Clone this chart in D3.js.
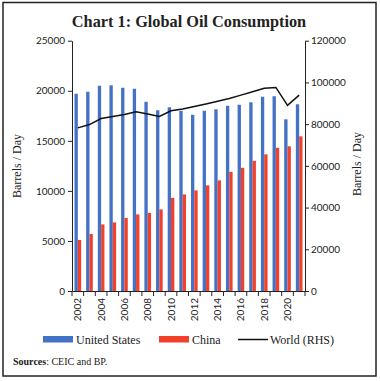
<!DOCTYPE html>
<html><head><meta charset="utf-8">
<script src="https://cdn.jsdelivr.net/npm/d3@7"></script>
<style>body{margin:0;background:#fff}svg{display:block}</style>
</head><body>
<script>
const years = [2002,2003,2004,2005,2006,2007,2008,2009,2010,2011,2012,2013,2014,2015,2016,2017,2018,2019,2020,2021];
const usValues = [19700,19900,20500,20550,20300,20200,18900,18050,18350,18000,17600,18000,18150,18500,18600,18850,19400,19450,17150,18650];
const chinaValues = [5100,5700,6650,6850,7300,7650,7800,8150,9300,9650,10050,10550,11050,11900,12300,13000,13650,14300,14450,15450];
const worldValues = [78200,79800,82700,83700,84600,85900,84900,83700,86400,87300,88500,89700,91000,92300,93900,95500,97200,97600,89000,93900];
const leftTicks = [0,5000,10000,15000,20000,25000];
const rightTicks = [0,20000,40000,60000,80000,100000,120000];
const xLabels = [2002,2004,2006,2008,2010,2012,2014,2016,2018,2020];

const W=380,H=381;
const svg=d3.select("body").append("svg").attr("width",W).attr("height",H);
svg.append("rect").attr("x",3).attr("y",2.5).attr("width",373).attr("height",373.5)
  .attr("fill","none").attr("stroke","#222").attr("stroke-width",1.5);

const L=72,R=305,T=40.7,B=291;
const x=d3.scaleBand().domain(years).range([L,R]).paddingInner(0).paddingOuter(0);
const xs=d3.scaleBand().domain(["us","cn"]).range([0,x.bandwidth()]).paddingInner(0).paddingOuter(0.75);
const yL=d3.scaleLinear().domain([0,25000]).range([B,T]);
const yR=d3.scaleLinear().domain([0,120000]).range([B,T]);

const tickFont="Lato, 'Open Sans', sans-serif";
const serif="'Liberation Serif', 'DejaVu Serif', serif";

svg.append("text").attr("x",189).attr("y",27).attr("text-anchor","middle")
  .attr("font-family",serif).attr("font-weight","bold").attr("font-size",16.3).attr("fill","#222")
  .text("Chart 1: Global Oil Consumption");

const g=svg.append("g");
g.selectAll(".us").data(years).join("rect")
  .attr("x",(d)=>x(d)+xs("us")).attr("width",xs.bandwidth())
  .attr("y",(d,i)=>yL(usValues[i])).attr("height",(d,i)=>B-yL(usValues[i])).attr("fill","#4472c4");
g.selectAll(".cn").data(years).join("rect")
  .attr("x",(d)=>x(d)+xs("cn")).attr("width",xs.bandwidth())
  .attr("y",(d,i)=>yL(chinaValues[i])).attr("height",(d,i)=>B-yL(chinaValues[i])).attr("fill","#f2402a");

const line=d3.line().x((d,i)=>x(years[i])+x.bandwidth()/2).y(d=>yR(d));
svg.append("path").datum(worldValues).attr("d",line).attr("fill","none").attr("stroke","#111").attr("stroke-width",1.5);

const axL=svg.append("g").attr("transform",`translate(${L},0)`)
  .call(d3.axisLeft(yL).tickValues(leftTicks).tickSize(4).tickPadding(3).tickSizeOuter(0).tickFormat(d3.format("d")));
const axR=svg.append("g").attr("transform",`translate(${R},0)`)
  .call(d3.axisRight(yR).tickValues(rightTicks).tickSize(4).tickPadding(2).tickSizeOuter(0).tickFormat(d3.format("d")));
const axB=svg.append("g").attr("transform",`translate(0,${B})`)
  .call(d3.axisBottom(x).tickValues([]).tickSizeOuter(0));
const bounds=years.map(d=>x(d)).concat([R]);
axB.selectAll(".bt").data(bounds).join("line").attr("x1",d=>d).attr("x2",d=>d).attr("y1",0).attr("y2",5).attr("stroke","#222");
axB.selectAll(".lbl").data(xLabels).join("text")
  .attr("transform",d=>`translate(${x(d)+x.bandwidth()/2+3.5},7) rotate(-90)`)
  .attr("text-anchor","end").text(d=>d);
[axL,axR,axB].forEach(a=>{a.selectAll("path,line").attr("stroke","#222");
  a.selectAll("text").attr("font-family",tickFont).attr("font-size",10).attr("fill","#222");});

svg.append("text").attr("transform","translate(21,166) rotate(-90)").attr("text-anchor","middle")
  .attr("font-family",serif).attr("font-size",12).attr("fill","#222").text("Barrels / Day");
svg.append("text").attr("transform","translate(361,164) rotate(-90)").attr("text-anchor","middle")
  .attr("font-family",serif).attr("font-size",12).attr("fill","#222").text("Barrels / Day");

const lg=svg.append("g");
lg.append("rect").attr("x",43).attr("y",336).attr("width",30).attr("height",6.5).attr("fill","#4472c4");
lg.append("rect").attr("x",159).attr("y",336).attr("width",30).attr("height",6.5).attr("fill","#f2402a");
lg.append("line").attr("x1",238).attr("x2",268).attr("y1",339.5).attr("y2",339.5).attr("stroke","#111").attr("stroke-width",1.5);
[["United States",76],["China",192],["World (RHS)",270]].forEach(([t,px])=>{
  lg.append("text").attr("x",px).attr("y",343.5).attr("font-family",serif).attr("font-size",12).attr("fill","#222").text(t);
});

const src=svg.append("text").attr("x",13).attr("y",364.5).attr("font-family",serif).attr("font-size",10).attr("fill","#222");
src.append("tspan").attr("font-weight","bold").text("Sources");
src.append("tspan").text(": CEIC and BP.");
</script>
</body></html>
